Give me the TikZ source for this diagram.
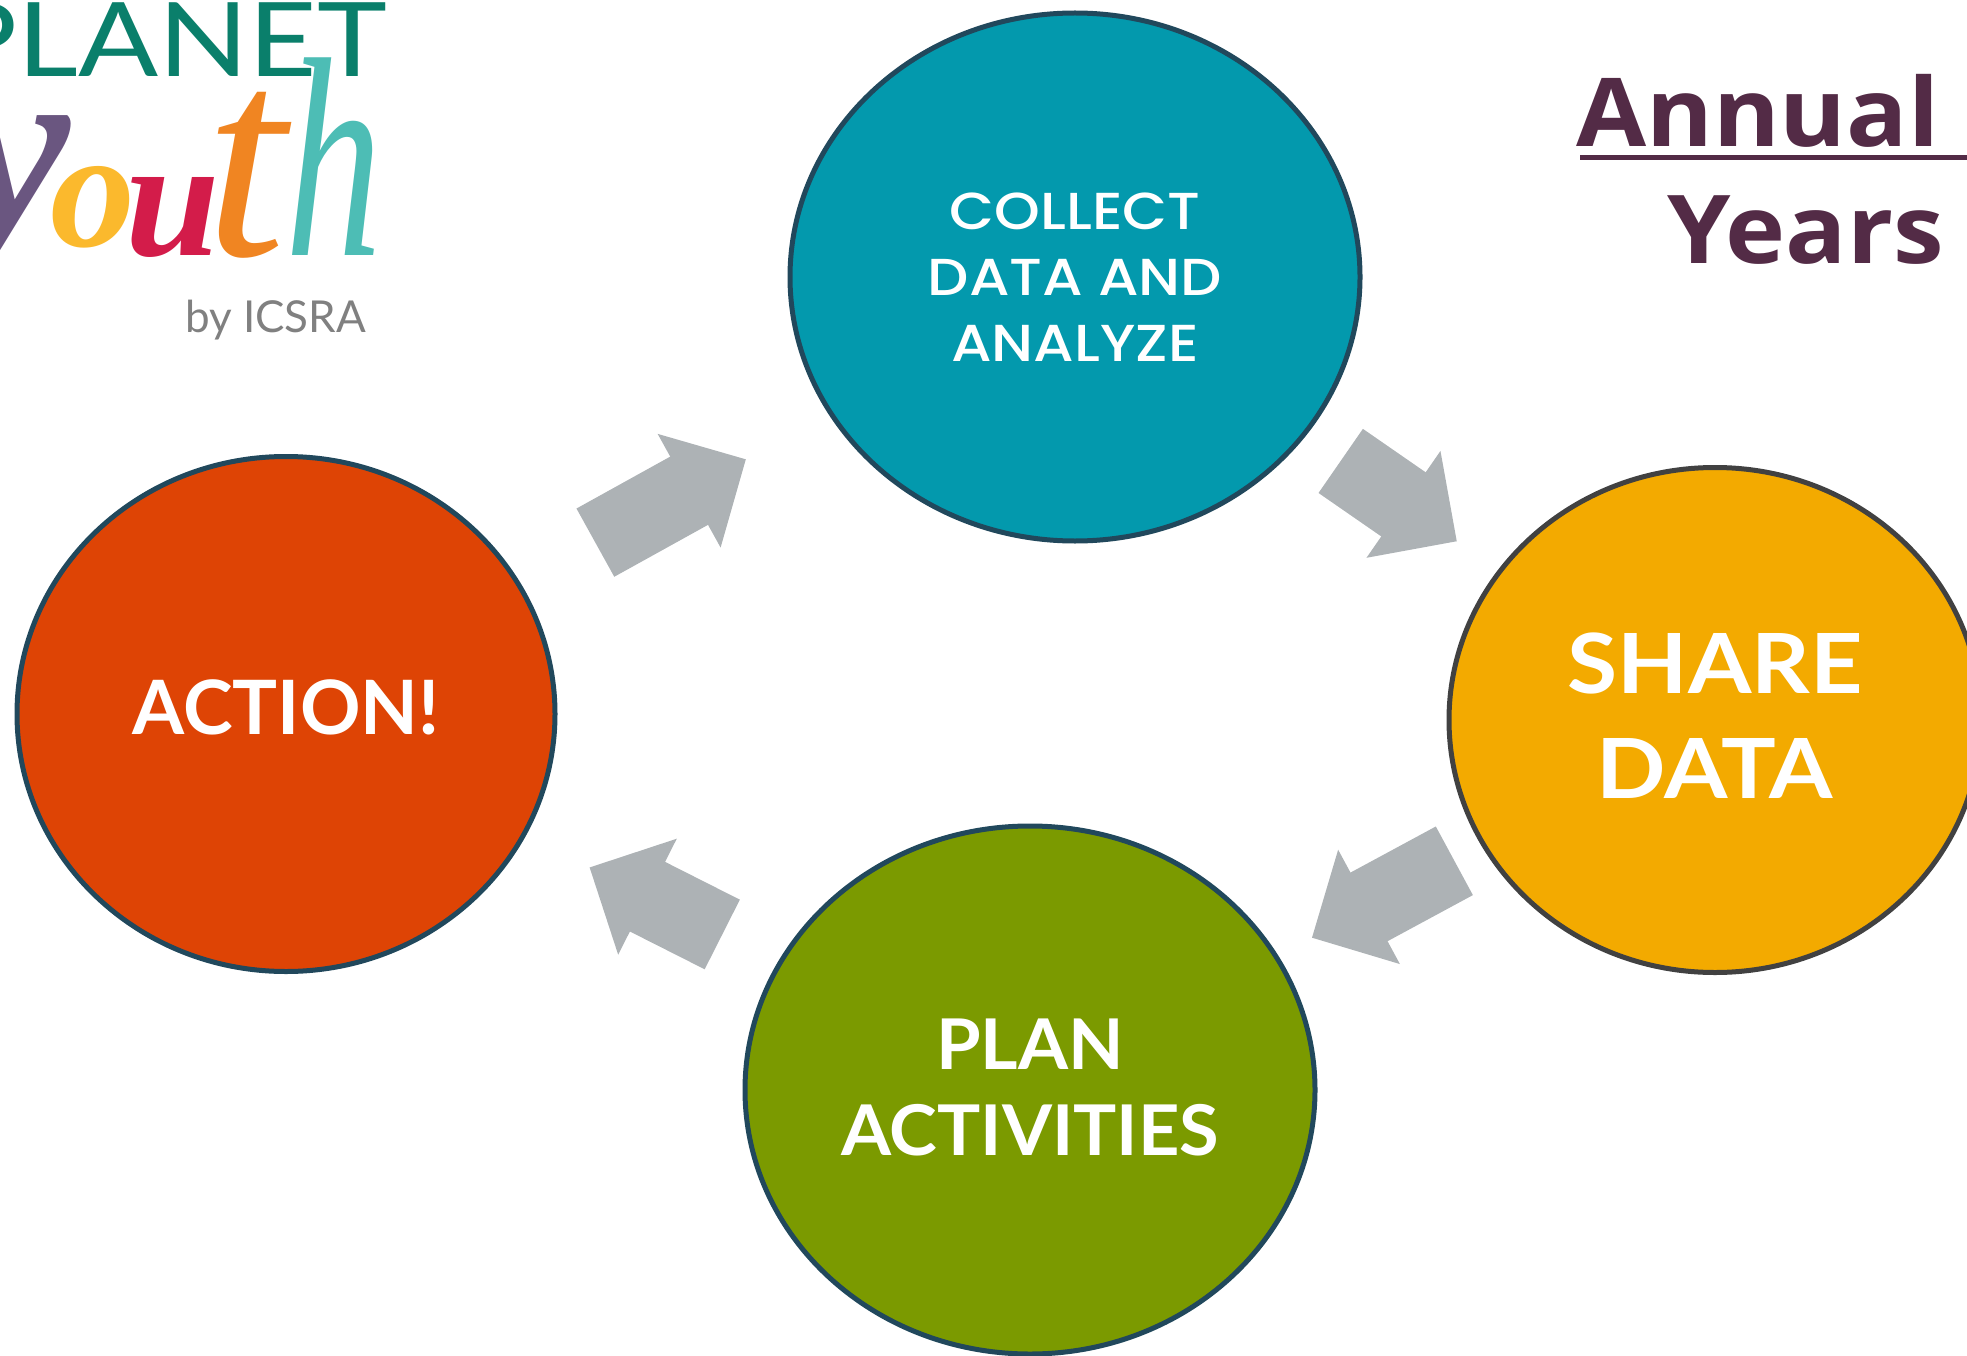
\documentclass[tikz,border=0pt]{standalone}
\usepackage{fontspec}
\setmainfont{Lato}
\newfontfamily\titlefont[FakeStretch=1.07]{Open Sans}
\newfontfamily\collectfont[FakeStretch=1.12]{Poppins Medium}
\newfontfamily\logofont{Liberation Serif}
\newfontfamily\planetfont[FakeStretch=1.15]{Lato}
\newfontfamily\sharefont[FakeStretch=1.1,BoldFont={Lato Bold}]{Lato}
\newfontfamily\planfont[FakeStretch=1.03,BoldFont={Lato Bold}]{Lato}
\newfontfamily\smallfont[FakeStretch=.68]{Liberation Serif}
\usetikzlibrary{arrows.meta,shapes.geometric}
\definecolor{tealfill}{HTML}{0399AD}
\definecolor{amberfill}{HTML}{F3AA00}
\definecolor{olivefill}{HTML}{7B9A00}
\definecolor{rustfill}{HTML}{DE4405}
\definecolor{ringblue}{HTML}{21485C}
\definecolor{ringgray}{HTML}{414141}
\definecolor{flowgray}{HTML}{ADB2B5}
\definecolor{plum}{HTML}{532B46}
\definecolor{planetgreen}{HTML}{0A7F6B}
\definecolor{youthy}{HTML}{6A5680}
\definecolor{youtho}{HTML}{FBB92D}
\definecolor{youthu}{HTML}{D31C4A}
\definecolor{youtht}{HTML}{F08522}
\definecolor{youthh}{HTML}{4DBDB5}

\begin{document}
\begin{tikzpicture}[x=1pt,y=-1pt,
    stage/.style={ellipse,draw=ringblue,line width=5pt,inner sep=0pt,text=white,align=center},
    flow/.style={-{Triangle[length=65pt,width=126pt]},line width=78pt,draw=flowgray},
    heading/.style={anchor=base west,inner sep=0pt,text=plum,font=\titlefont\bfseries\fontsize{95}{95}\selectfont},
    brand/.style={anchor=base west,inner sep=0pt,font=\logofont\itshape\fontsize{#1}{#1}\selectfont},
    brandbold/.style={anchor=base west,inner sep=0pt,font=\logofont\itshape\bfseries\fontsize{#1}{#1}\selectfont}]
   \useasboundingbox (0,0) rectangle (1967,1356);
   \clip (0,0) rectangle (1967,1356);

   \node[stage,fill=tealfill,minimum width=570pt,minimum height=528pt,
      font=\collectfont\fontsize{52}{66}\selectfont] (collect) at (1075,277) {COLLECT\\DATA AND\\ANALYZE};
   \node[stage,fill=amberfill,draw=ringgray,minimum width=532pt,minimum height=505pt,text depth=8pt,
      font=\sharefont\bfseries\fontsize{83}{105}\selectfont] (share) at (1715,720) {SHARE\\DATA};
   \node[stage,fill=olivefill,minimum width=570pt,minimum height=528pt,text depth=5pt,
      font=\planfont\bfseries\fontsize{70}{86}\selectfont] (plan) at (1030,1090) {PLAN\\ACTIVITIES};
   \node[stage,fill=rustfill,minimum width=538pt,minimum height=515pt,text depth=13pt,
      font=\bfseries\fontsize{75}{90}\selectfont] (action) at (286,714) {ACTION!};

   \draw[flow,shorten <=85pt,shorten >=94pt] (action) -- (collect);
   \draw[flow,shorten <=43pt,shorten >=50pt] (collect) -- (share);
   \draw[flow,shorten <=31pt,shorten >=38pt] (share) -- (plan);
   \draw[flow,shorten <=62pt,shorten >=71pt] (plan) -- (action);

   % title, cut by the page edge
   \node[heading] (annual) at (1576,147) {Annual};
   \node[heading] (years) at (1667,264) {Years};
   \fill[plum] (1580,155) rectangle (1967,160);

   % logo
   \node[anchor=base west,inner sep=0pt,text=planetgreen,font=\planetfont\fontsize{103}{103}\selectfont] (planet) at (-54,77) {PLANET};
   \node[brandbold=270,text=youthy] (logoy) at (-50,240) {y};
   \node[brandbold=170,text=youtho] (logoo) at (50,247) {o};
   \node[brandbold=170,text=youthu] (logou) at (125,256) {u};
   \node[brand=290,text=youtht] (logot) at (205,256) {t};
   \node[anchor=base west,inner sep=0pt,text=youthh,font=\smallfont\itshape\fontsize{285}{285}\selectfont] (logoh) at (285,256) {h};
   \node[anchor=base west,inner sep=0pt,text=gray,font=\fontsize{44}{44}\selectfont] (byline) at (185,332) {by ICSRA};
\end{tikzpicture}
\end{document}
